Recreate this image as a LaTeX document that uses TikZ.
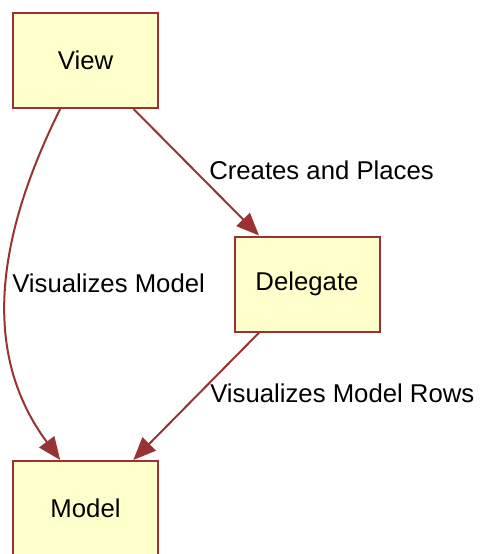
\documentclass[tikz,border=0pt]{standalone}
\usepackage{fontspec}
\setmainfont{Liberation Sans}
\usetikzlibrary{arrows.meta}
\definecolor{boxline}{HTML}{993333}
\definecolor{boxfill}{HTML}{FFFFCC}
\begin{document}
\begin{tikzpicture}[x=0.75pt,y=-0.75pt,
    font=\fontsize{19.3}{23}\selectfont,
    box/.style={draw=boxline,fill=boxfill,line width=1.5pt,minimum width=108.75pt,minimum height=71.25pt,inner sep=0pt},
    edge/.style={draw=boxline,line width=1.5pt,-{Triangle[length=17pt,width=14pt]}},
    lbl/.style={anchor=base west,inner sep=0pt}]
        \useasboundingbox (0,0) rectangle (480,554);
        % classes
            \node[box] (View) at (85.5,60.5) {View};
            \node[box] (Delegate) at (307,284) {Delegate};
            \node[box] (Model) at (85.5,508.5) {Model};
        % relations
            \draw[edge] ([xshift=-19pt]View.south) .. controls (-10,250) and (-14,360) .. ([xshift=-19pt]Model.north);
            \draw[edge] (View) -- (Delegate);
            \draw[edge] (Delegate) -- (Model);
        % labels
            \node[lbl] (creates) at (209,179.5) {Creates and Places};
            \node[lbl] (visModel) at (12,292) {Visualizes Model};
            \node[lbl] (visRows) at (210,402) {Visualizes Model Rows};
\end{tikzpicture}
\end{document}
